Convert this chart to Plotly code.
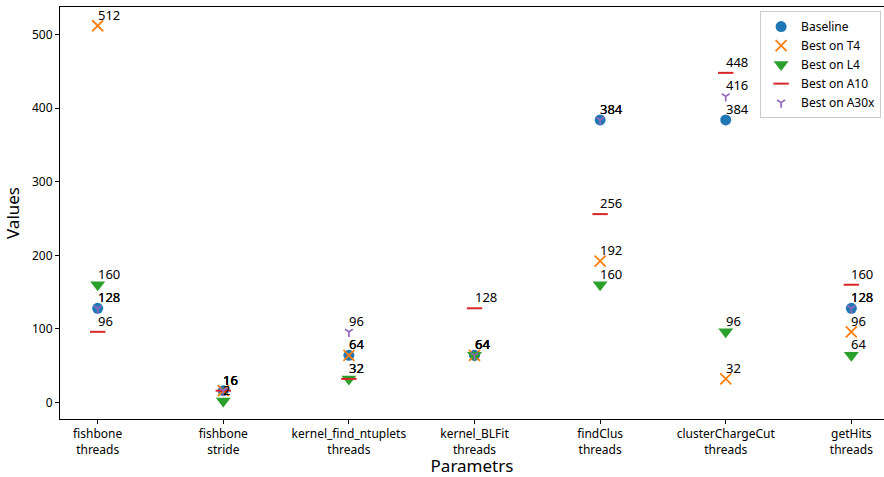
import plotly.graph_objects as go

# Parameters being tuned (x axis) and best values per configuration
params = [
    "fishbone<br>threads",
    "fishbone<br>stride",
    "kernel_find_ntuplets<br>threads",
    "kernel_BLFit<br>threads",
    "findClus<br>threads",
    "clusterChargeCut<br>threads",
    "getHits<br>threads",
]

baseline = [128, 16, 64, 64, 384, 384, 128]
best_t4 = [512, 16, 64, 64, 192, 32, 96]
best_l4 = [160, 2, 32, 64, 160, 96, 64]
best_a10 = [96, 16, 32, 128, 256, 448, 160]
best_a30x = [128, 16, 96, 64, 384, 416, 128]

series = [
    ("Baseline", baseline, dict(symbol="circle", size=11, color="#1f77b4")),
    ("Best on T4", best_t4, dict(symbol="x-thin-open", size=11, color="#ff7f0e",
                                 line=dict(width=1.8, color="#ff7f0e"))),
    ("Best on L4", best_l4, dict(symbol="triangle-down", size=13, color="#2ca02c")),
    ("Best on A10", best_a10, dict(symbol="line-ew-open", size=11, color="#d62728",
                                   line=dict(width=2, color="#d62728"))),
    ("Best on A30x", best_a30x, dict(symbol="y-down-open", size=6.5, color="#9467bd",
                                     line=dict(width=1.7, color="#9467bd"))),
]

xs = list(range(len(params)))

fig = go.Figure()
annotations = []
for name, vals, marker in series:
    fig.add_trace(go.Scatter(x=xs, y=vals, mode="markers", name=name, marker=marker))
    for x, v in zip(xs, vals):
        annotations.append(dict(
            x=x, y=v, text=str(v), showarrow=False,
            xanchor="left", yanchor="bottom", xshift=-2, yshift=0,
            font=dict(family="Noto Sans", size=13, color="black"),
        ))

fig.update_layout(
    width=884, height=477,
    margin=dict(l=60, r=0, t=7, b=58),
    plot_bgcolor="white", paper_bgcolor="white",
    font=dict(family="Noto Sans", size=12, color="black"),
    annotations=annotations,
    showlegend=True,
    legend=dict(
        x=0.9965, y=0.99, xanchor="right", yanchor="top",
        bgcolor="white", bordercolor="#cccccc", borderwidth=1,
        font=dict(family="Noto Sans", size=12),
        tracegroupgap=0,
    ),
)

fig.update_xaxes(
    range=[-0.3, 6.26], tickvals=xs, ticktext=params,
    showline=True, linecolor="black", linewidth=1, mirror=True,
    ticks="outside", ticklen=4, tickcolor="black",
    showgrid=False, zeroline=False,
    title=dict(text="Parametrs", font=dict(size=17), standoff=6),
    tickfont=dict(size=12),
)
fig.update_yaxes(
    range=[-22.5, 537.5], tickvals=[0, 100, 200, 300, 400, 500],
    showline=True, linecolor="black", linewidth=1,
    ticks="outside", ticklen=4, tickcolor="black",
    showgrid=False, zeroline=False,
    title=dict(text="Values", font=dict(size=17), standoff=8),
    tickfont=dict(size=12),
)

fig.write_html("out.html")
